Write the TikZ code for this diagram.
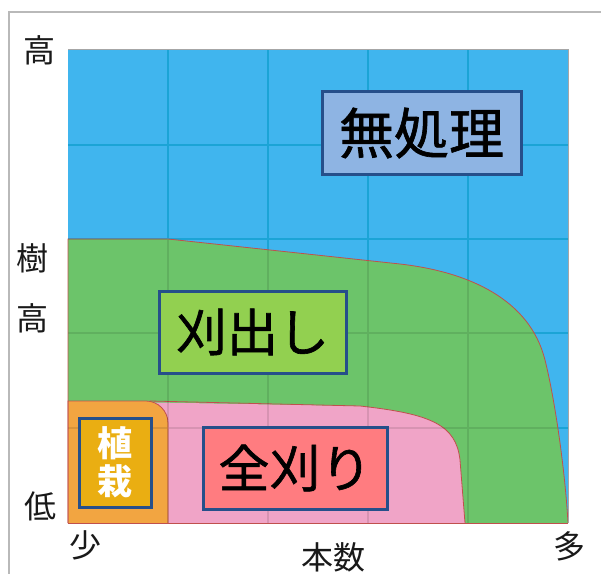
\documentclass[tikz,border=0pt]{standalone}
\usepackage{fontspec}
\setmainfont{Noto Sans CJK JP}
\newfontfamily\jpmed[FakeBold=1.2]{Noto Sans CJK JP}
\usetikzlibrary{calc}
\definecolor{skyfill}{HTML}{40B5EE}
\definecolor{skygrid}{HTML}{1BA4D6}
\definecolor{grfill}{HTML}{6CC46A}
\definecolor{pkfill}{HTML}{F0A4C7}
\definecolor{orfill}{HTML}{F2A541}
\definecolor{edgered}{HTML}{C0504D}
\definecolor{boxblue}{HTML}{264F8A}
\definecolor{lbblue}{HTML}{8EB4E3}
\definecolor{lbgreen}{HTML}{92D050}
\definecolor{lbred}{HTML}{FF7C80}
\definecolor{lbgold}{HTML}{EAAE12}
\tikzset{
  labbox/.style={draw=boxblue, line width=3bp, inner sep=0pt, align=center, text=black},
  axlab/.style={font=\fontsize{32bp}{36bp}\selectfont, inner sep=0pt, text=black!90},
  region/.style={draw=edgered, line width=0.8bp},
}
\begin{document}
\begin{tikzpicture}[x=1bp,y=-1bp]
\useasboundingbox (0,0) rectangle (601,574);
% outer frame
\draw[gray!55, line width=1.5bp] (9,574) -- (9,12) -- (601,12);
% blue background
\fill[skyfill] (68,50) rectangle (568,523);
\draw[skygrid, line width=1.2bp] (168,50) -- (168,523) (268,50) -- (268,523) (368,50) -- (368,523) (468,50) -- (468,523)
  (68,145) -- (568,145) (68,239) -- (568,239) (68,333) -- (568,333) (68,428) -- (568,428);
% green region
\def\greenpath{(68,523) -- (68,239) -- (168,239) -- (400,264) .. controls (470,272) and (530,300) .. (545,360) .. controls (555,400) and (565,470) .. (568,523) -- cycle}
\fill[grfill] \greenpath;
% pink region
\fill[pkfill] (68,523) -- (68,401) -- (360,406) .. controls (432,414) and (456,425) .. (460,460) -- (465,523) -- cycle;
\draw[region] (150,401) -- (360,406) .. controls (432,414) and (456,425) .. (460,460) -- (465,523);
% orange region
\fill[orfill] (68,523) -- (68,401) -- (146,401) .. controls (158,401) and (168,411) .. (168,423) -- (168,523) -- cycle;
\draw[region] (68,523) -- (68,401) -- (146,401) .. controls (158,401) and (168,411) .. (168,423) -- (168,523);
% grid over green area
\begin{scope}
\clip \greenpath;
\draw[black, opacity=0.1, line width=1.2bp] (168,50) -- (168,523) (268,50) -- (268,523) (368,50) -- (368,523) (468,50) -- (468,523)
  (68,145) -- (568,145) (68,239) -- (568,239) (68,333) -- (568,333) (68,428) -- (568,428);
\end{scope}
\draw[region] (68,523) -- (68,239) -- (168,239) -- (400,264) .. controls (470,272) and (530,300) .. (545,360) .. controls (555,400) and (565,470) .. (568,523);
\draw[edgered, line width=0.8bp] (68,523) -- (568,523);
\draw[gray!70, line width=1bp] (68,50) -- (568,50) -- (568,523);
% label boxes
\node[labbox, fill=lbblue, minimum width=199bp, minimum height=82bp, font=\jpmed\fontsize{55bp}{60bp}\selectfont] (mushori) at (421.5,133) {無処理};
\node[labbox, fill=lbgreen, minimum width=187bp, minimum height=82bp, font=\jpmed\fontsize{51bp}{56bp}\selectfont] (karidashi) at (252.5,332) {刈出し};
\node[labbox, fill=lbred, minimum width=184bp, minimum height=82bp, font=\jpmed\fontsize{51bp}{56bp}\selectfont] (zengari) at (295,468) {全刈り};
\node[labbox, fill=lbgold, text=white, minimum width=72bp, minimum height=89bp, font=\bfseries\fontsize{35bp}{38bp}\selectfont] (shokusai) at (115,462.5) {植\\栽};
% axis labels
\node[axlab] (takai) at (39,50) {高};
\node[axlab] (ju) at (32,258) {樹};
\node[axlab] (ko) at (32,318) {高};
\node[axlab] (hikui) at (40,506) {低};
\node[axlab] (sukunai) at (85,545) {少};
\node[axlab] (honsu) at (333,557) {本数};
\node[axlab] (ooi) at (569,546) {多};
\end{tikzpicture}
\end{document}
